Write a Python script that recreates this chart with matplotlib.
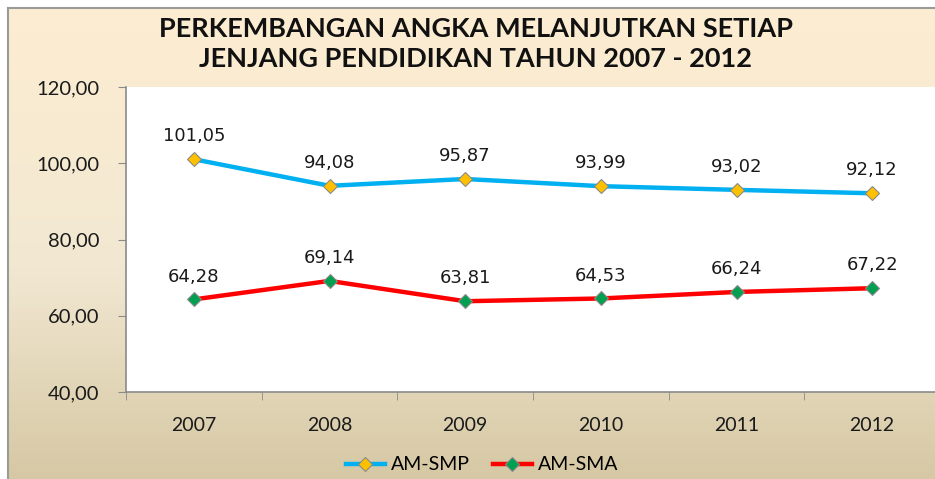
import numpy as np
import matplotlib
matplotlib.use("Agg")
import matplotlib.pyplot as plt
from matplotlib.ticker import FixedLocator

years = ["2007", "2008", "2009", "2010", "2011", "2012"]
am_smp = [101.05, 94.08, 95.87, 93.99, 93.02, 92.12]
am_sma = [64.28, 69.14, 63.81, 64.53, 66.24, 67.22]
yticks = [40, 60, 80, 100, 120]
title = "PERKEMBANGAN ANGKA MELANJUTKAN SETIAP\nJENJANG PENDIDIKAN TAHUN 2007 - 2012"

W, H = 935, 479
fig = plt.figure(figsize=(W / 100, H / 100), dpi=100, facecolor="white")

narrow = ["Lato", "DejaVu Sans"]

# background panel with gradient
bg = fig.add_axes([8 / W, 0, 1 - 8 / W, 1 - 8 / H])
top = np.array([253, 237, 209]) / 255
mid = np.array([242, 232, 210]) / 255
bot = np.array([214, 200, 164]) / 255
n = 256
t = np.linspace(0, 1, n)[:, None]
grad = np.where(t < 0.55, top + (mid - top) * (t / 0.55), mid + (bot - mid) * ((t - 0.55) / 0.45))
bg.imshow(grad[:, None, :].repeat(2, axis=1), aspect="auto", extent=[0, 1, 0, 1], origin="upper")
bg.set_xlim(0, 1)
bg.set_ylim(0, 1)
bg.set_xticks([])
bg.set_yticks([])
for s in ["right", "bottom"]:
    bg.spines[s].set_visible(False)
for s in ["left", "top"]:
    bg.spines[s].set_color("#9a9a9a")
    bg.spines[s].set_linewidth(1.5)

fig.text(476 / W, 1 - 44 / H, title, ha="center", va="center", fontsize=19.5,
         fontweight="bold", family=narrow, color="#111111", linespacing=1.3)

ax = fig.add_axes([126 / W, 1 - 392 / H, (940 - 126) / W, (392 - 87) / H])
ax.set_facecolor("white")
x = np.arange(len(years))
ax.plot(x, am_smp, color="#00B0F0", lw=3.2, marker="D", ms=7, mfc="#FFC000",
        mec="#8a8a8a", mew=0.8, label="AM-SMP", zorder=3)
ax.plot(x, am_sma, color="#FF0000", lw=3.2, marker="D", ms=7, mfc="#00A050",
        mec="#8a8a8a", mew=0.8, label="AM-SMA", zorder=3)

for xi, v in zip(x, am_smp):
    ax.annotate(f"{v:.2f}".replace(".", ","), (xi, v), xytext=(0, 10),
                textcoords="offset points", ha="center", va="bottom",
                fontsize=13, family="DejaVu Sans", color="#1a1a1a")
for xi, v in zip(x, am_sma):
    ax.annotate(f"{v:.2f}".replace(".", ","), (xi, v), xytext=(0, 10),
                textcoords="offset points", ha="center", va="bottom",
                fontsize=13, family="DejaVu Sans", color="#1a1a1a")

ax.set_xlim(-0.5, len(years) - 0.5)
ax.set_ylim(40, 120)
ax.set_yticks(yticks)
ax.set_yticklabels([f"{v:.2f}".replace(".", ",") for v in yticks], family=narrow,
                   fontsize=14.5, color="#1a1a1a")
ax.set_xticks(x)
ax.set_xticklabels(years, family=narrow, fontsize=14, color="#1a1a1a")
ax.xaxis.set_minor_locator(FixedLocator(np.arange(-0.5, len(years), 1.0)))
ax.tick_params(axis="x", which="major", length=0, pad=18)
ax.tick_params(axis="x", which="minor", length=6, color="#8a8a8a", direction="out")
ax.tick_params(axis="y", length=6, color="#8a8a8a", direction="out", pad=13)
for s in ["top", "right"]:
    ax.spines[s].set_visible(False)
for s in ["left", "bottom"]:
    ax.spines[s].set_color("#8a8a8a")
    ax.spines[s].set_linewidth(1.2)

leg = fig.legend(loc="center", bbox_to_anchor=(482 / W, 1 - 465 / H), ncol=2,
                 frameon=False, prop={"family": narrow, "size": 14},
                 handlelength=2.0, columnspacing=1.2, handletextpad=0.3)
for line in leg.get_lines():
    line.set_markersize(7)

fig.savefig("out.png", dpi=100, facecolor="white")
